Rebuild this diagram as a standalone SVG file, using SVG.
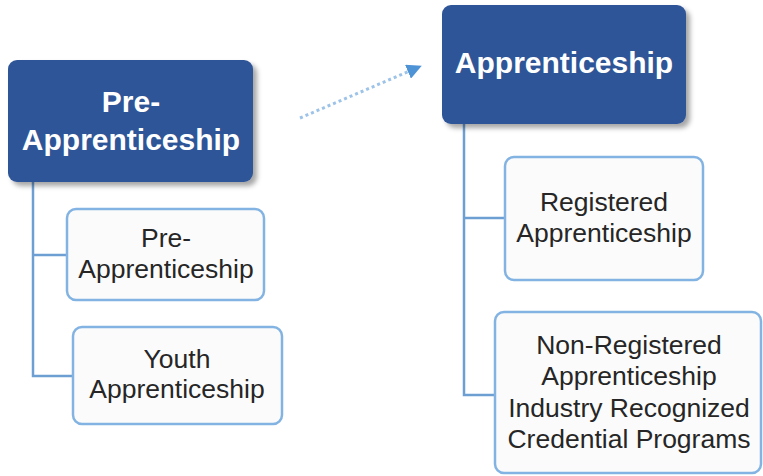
<svg xmlns="http://www.w3.org/2000/svg" width="763" height="476" viewBox="0 0 763 476">
<style>
.main{fill:#2F5597;}
.child{fill:#FBFBFB;stroke:#82B3E2;stroke-width:2.5;}
.tm{font-family:"Liberation Sans",Arial,sans-serif;font-weight:bold;font-size:30px;fill:#FFFFFF;text-anchor:middle;}
.tc{font-family:"Liberation Sans",Arial,sans-serif;font-size:26.5px;fill:#262626;text-anchor:middle;}
.conn{fill:none;stroke:#6E9FD3;stroke-width:2.5;}
</style>
<defs>
<filter id="sh" x="-10%" y="-10%" width="130%" height="140%">
<feDropShadow dx="4" dy="4" stdDeviation="2.5" flood-color="#000000" flood-opacity="0.35"/>
</filter>
<marker id="ah" viewBox="0 0 10 10" refX="8" refY="5" markerWidth="5" markerHeight="5" orient="auto" markerUnits="strokeWidth">
<path d="M0,0 L10,5 L0,10 Z" fill="#4E93D6"/>
</marker>
</defs>
<rect width="763" height="476" fill="#FFFFFF"/>
<g id="connectors">
<path class="conn" d="M33,182 V376 H73 M33,255 H67"/>
<path class="conn" d="M464,124 V395 H495 M464,218 H505"/>
<line x1="300" y1="118" x2="419" y2="67" stroke="#9DC3E8" stroke-width="3" stroke-dasharray="3 3" marker-end="url(#ah)"/>
</g>
<g id="node-pre-main">
<rect class="main" x="8" y="60" width="245" height="122" rx="9" filter="url(#sh)"/>
<text class="tm" x="131" y="112">Pre-</text>
<text class="tm" x="131" y="150">Apprenticeship</text>
</g>
<g id="node-appr-main">
<rect class="main" x="442" y="5" width="244" height="119" rx="9" filter="url(#sh)"/>
<text class="tm" x="564" y="73">Apprenticeship</text>
</g>
<g id="node-pre-child">
<rect class="child" x="67" y="209" width="197" height="91" rx="9"/>
<text class="tc" x="166" y="247">Pre-</text>
<text class="tc" x="166" y="278">Apprenticeship</text>
</g>
<g id="node-youth">
<rect class="child" x="73" y="327" width="209" height="97" rx="9"/>
<text class="tc" x="177" y="368">Youth</text>
<text class="tc" x="177" y="398">Apprenticeship</text>
</g>
<g id="node-registered">
<rect class="child" x="505" y="157" width="198" height="123" rx="9"/>
<text class="tc" x="604" y="211">Registered</text>
<text class="tc" x="604" y="242">Apprenticeship</text>
</g>
<g id="node-nonregistered">
<rect class="child" x="495" y="312" width="266" height="161" rx="9"/>
<text class="tc" x="629" y="354">Non-Registered</text>
<text class="tc" x="629" y="385">Apprenticeship</text>
<text class="tc" x="629" y="417">Industry Recognized</text>
<text class="tc" x="629" y="448">Credential Programs</text>
</g>
</svg>
